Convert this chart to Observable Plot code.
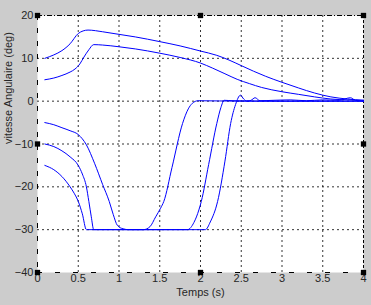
<!DOCTYPE html>
<html>
<head>
<meta charset="utf-8">
<script src="https://cdn.jsdelivr.net/npm/d3@7"></script>
<script src="https://cdn.jsdelivr.net/npm/@observablehq/plot@0.6"></script>
<style>
  html, body { margin: 0; padding: 0; background: #cccccc; }
  #chart { width: 371px; height: 305px; }
</style>
</head>
<body>
<div id="chart"></div>
<script>
// ---- data ----
const xTicks = [0, 0.5, 1, 1.5, 2, 2.5, 3, 3.5, 4];
const xTickLabels = ["0", "0.5", "1", "1.5", "2", "2.5", "3", "3.5", "4"];
const yTicks = [-40, -30, -20, -10, 0, 10, 20];
const xGrid = [0.5, 1, 1.5, 2, 2.5, 3, 3.5];
const yGrid = [-30, -20, -10, 0, 10];
const xLimits = [0, 4];
const yLimits = [-40, 20];
const xLabel = "Temps (s)";
const yLabel = "vitesse Angulaire (deg)";

// curve starting at +10
const tA = [0.09, 0.2, 0.3, 0.4, 0.5, 0.56, 0.62, 0.8, 1.0, 1.2, 1.5, 1.75, 2.0, 2.2, 2.35, 2.5, 2.65, 2.8, 3.0, 3.2, 3.4, 3.6, 3.8, 4.0];
const vA = [10.0, 10.8, 11.8, 13.4, 15.8, 16.4, 16.6, 16.2, 15.6, 15.0, 13.9, 12.9, 11.7, 10.7, 9.6, 8.3, 7.0, 5.8, 4.4, 3.1, 1.9, 1.0, 0.5, 0.2];
// curve starting at +5
const tB = [0.09, 0.2, 0.3, 0.4, 0.46, 0.52, 0.57, 0.63, 0.69, 0.8, 1.0, 1.2, 1.5, 1.75, 2.0, 2.15, 2.3, 2.45, 2.6, 2.75, 3.0, 3.2, 3.4, 3.6, 3.8, 4.0];
const vB = [5.0, 5.4, 6.0, 6.8, 7.5, 8.7, 10.3, 12.0, 13.2, 13.1, 12.7, 12.2, 11.2, 10.2, 8.9, 7.7, 6.4, 5.1, 4.1, 3.2, 2.2, 1.6, 1.0, 0.5, 0.3, 0.2];
// curve starting at -15
const tE = [0.09, 0.2, 0.3, 0.4, 0.45, 0.5, 0.55, 0.6, 1.3, 1.38, 1.45, 1.51, 1.55, 1.65, 1.78, 1.85, 1.9, 1.97, 2.5, 3.0, 3.5, 4.0];
const vE = [-15.0, -16.0, -17.6, -20.0, -21.5, -23.4, -26.3, -30, -30, -29.3, -27, -25, -23.4, -15.5, -5.2, -1.8, -0.5, 0.1, 0, 0, 0, 0];
// curve starting at -10
const tD = [0.09, 0.2, 0.3, 0.4, 0.5, 0.55, 0.6, 0.63, 0.66, 0.69, 1.84, 1.92, 1.98, 2.01, 2.1, 2.2, 2.25, 2.29, 2.4, 3.0, 3.5, 4.0];
const vD = [-10.0, -10.6, -11.6, -13.0, -15.0, -17.0, -20.0, -23.4, -27, -30, -30, -28.3, -25.4, -23.4, -14.8, -5.2, -1.5, 0.2, 0.1, 0, 0, 0];
// curve starting at -5
const tC = [0.09, 0.2, 0.3, 0.4, 0.5, 0.6, 0.7, 0.8, 0.88, 0.93, 0.98, 1.05, 1.12, 2.06, 2.12, 2.21, 2.3, 2.37, 2.43, 2.49, 2.53, 2.57, 2.62, 2.67, 2.73, 2.9, 3.1, 3.3, 3.5, 3.7, 3.84, 3.9, 4.0];
const vC = [-5.0, -5.5, -6.2, -6.9, -7.8, -10.2, -14.5, -19.5, -23.4, -26.5, -29.0, -29.8, -30, -30, -28.2, -23.4, -14, -5.2, -0.8, 1.4, 0.5, 0, 0.2, 0.8, 0.1, 0.2, 0.3, 0.1, 0.3, 0.2, 0.8, 0.2, 0];

// selection handles on the axes box
const handleX = [0, 2, 4, 0, 4, 0, 2, 4];
const handleY = [20, 20, 20, -10, -10, -40, -40, -40];

// ---- build tables ----
const toRows = (ts, vs) => ts.map((t, i) => ({t, v: vs[i]}));
const curves = [toRows(tA, vA), toRows(tB, vB), toRows(tE, vE), toRows(tD, vD), toRows(tC, vC)];
const handles = handleX.map((x, i) => ({x, y: handleY[i]}));

const font = "'Liberation Sans', Arial, sans-serif";
const blue = "#0000ff";
const ink = "#262626";

const chart = Plot.plot({
  width: 371,
  height: 305,
  marginLeft: 37,
  marginRight: 8,
  marginTop: 15,
  marginBottom: 33,
  style: {background: "#cccccc", fontFamily: font, fontSize: "11px", color: ink},
  x: {domain: xLimits},
  y: {domain: yLimits},
  marks: [
    Plot.frame({fill: "white", stroke: "none"}),
    Plot.ruleX(xGrid, {stroke: "black", strokeDasharray: "2,3", strokeWidth: 1, strokeOpacity: 0.8}),
    Plot.ruleY(yGrid, {stroke: "black", strokeDasharray: "2,3", strokeWidth: 1, strokeOpacity: 0.8}),
    // box edges
    Plot.ruleX([xLimits[0]], {stroke: "black", strokeDasharray: "5,8"}),
    Plot.ruleX([xLimits[1]], {stroke: "black", strokeDasharray: "3,2"}),
    Plot.ruleY([yLimits[0]], {stroke: "black", strokeDasharray: "5,13"}),
    Plot.ruleY([yLimits[1]], {stroke: "black", strokeDasharray: "5,2,1,2"}),
    ...curves.map(rows => Plot.line(rows, {x: "t", y: "v", stroke: blue, strokeWidth: 1, curve: "monotone-x"})),
    Plot.axisX(xTicks, {tickSize: 0, tickPadding: 2, tickFormat: (d, i) => xTickLabels[i], label: null, fontSize: 11, fill: ink}),
    Plot.axisY(yTicks, {tickSize: 0, tickPadding: 4, label: null, fontSize: 11, fill: ink}),
    Plot.text([xLabel], {frameAnchor: "bottom", dy: 23, fontSize: 11, fill: ink}),
    Plot.text([yLabel], {frameAnchor: "left", dx: -29, rotate: -90, fontSize: 11, fill: ink}),
    Plot.dot(handles, {x: "x", y: "y", symbol: "square", fill: "black", stroke: "none", r: 3})
  ]
});
document.getElementById("chart").appendChild(chart);
</script>
</body>
</html>
